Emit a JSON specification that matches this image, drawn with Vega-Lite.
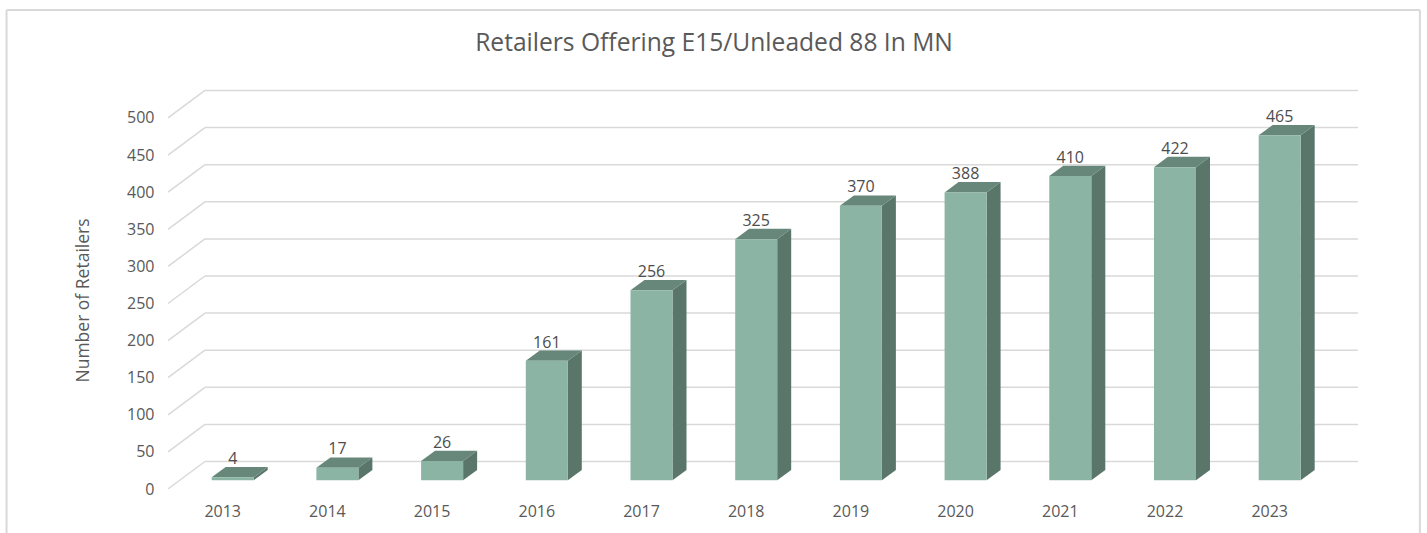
{
 "$schema":"https://vega.github.io/schema/vega-lite/v6.json",
 "width":1190,"height":399,
 "autosize":{"type":"none"},
 "padding":{"left":168,"top":90,"right":69,"bottom":44},
 "background":"white",
 "view":{"stroke":null},
 "config":{"font":"Open Sans","axisY":{"tickCount":11,"labelOverlap":false}},
 "title":{"text":"Retailers Offering E15/Unleaded 88 In MN","font":"Open Sans","fontSize":24.6,"fontWeight":"normal","color":"#595959","anchor":"middle","dx":-49,"offset":-48},
 "datasets":{
  "bars":[
   {"year":2013,"retailers":4},{"year":2014,"retailers":17},{"year":2015,"retailers":26},{"year":2016,"retailers":161},
   {"year":2017,"retailers":256},{"year":2018,"retailers":325},{"year":2019,"retailers":370},{"year":2020,"retailers":388},
   {"year":2021,"retailers":410},{"year":2022,"retailers":422},{"year":2023,"retailers":465}],
  "ticks":[{"tick":0},{"tick":50},{"tick":100},{"tick":150},{"tick":200},{"tick":250},{"tick":300},{"tick":350},{"tick":400},{"tick":450},{"tick":500}]
 },
 "layer":[
  {"data":{"name":"ticks"},
   "transform":[{"calculate":"datum.tick+37.06","as":"back"}],
   "mark":{"type":"rule","stroke":"#d9d9d9","strokeWidth":1.5},
   "encoding":{
    "x":{"datum":2012.735,"type":"quantitative","scale":{"domain":[2012.382,2023.748],"nice":false,"zero":false},
      "axis":{"values":[2013,2014,2015,2016,2017,2018,2019,2020,2021,2022,2023],"format":"d","title":null,"grid":false,"domain":false,"ticks":false,"labelFontSize":16,"labelColor":"#595959","labelPadding":14,"labelOffset":-10.5,"labelFlush":false,"labelOverlap":false}},
    "x2":{"datum":2023.748},
    "y":{"field":"back","type":"quantitative","scale":{"domain":[0,537.7],"nice":false,"zero":false},
      "axis":{"values":[0,50,100,150,200,250,300,350,400,450,500],"tickCount":11,"title":"Number of Retailers","titleFontSize":17.5,"titleFontWeight":"normal","titleColor":"#595959","titleX":-76,"titleY":210,"grid":false,"domain":false,"ticks":false,"labelFontSize":16,"labelColor":"#595959","labelPadding":14,"labelFlush":false,"labelOverlap":false}}
   }},
  {"data":{"name":"ticks"},
   "transform":[{"calculate":"datum.tick+37.06","as":"back"}],
   "mark":{"type":"rule","stroke":"#d9d9d9","strokeWidth":1.5},
   "encoding":{
    "x":{"datum":2012.382,"type":"quantitative"},"x2":{"datum":2012.735},
    "y":{"field":"tick","type":"quantitative"},"y2":{"field":"back"}
   }},
  {"data":{"name":"bars"},
   "transform":[
    {"calculate":"0","as":"near"},{"calculate":"1","as":"far"},
    {"fold":["near","far"],"as":["face","depth"]},
    {"calculate":"datum.year+0.2006+datum.depth*0.1337","as":"sx"},
    {"calculate":"11.7+datum.depth*13.9","as":"sy0"},
    {"calculate":"datum.sy0+datum.retailers","as":"sy1"}],
   "mark":{"type":"area","orient":"vertical","color":"#5a766b","interpolate":"linear"},
   "encoding":{
    "detail":{"field":"year"},
    "x":{"field":"sx","type":"quantitative"},
    "y":{"field":"sy1","type":"quantitative","stack":null},
    "y2":{"field":"sy0"}
   }},
  {"data":{"name":"bars"},
   "transform":[
    {"calculate":"0","as":"near"},{"calculate":"1","as":"far"},
    {"fold":["near","far"],"as":["face","depth"]},
    {"calculate":"datum.year-0.2006+datum.depth*0.1337","as":"tx0"},
    {"calculate":"datum.year+0.2006+datum.depth*0.1337","as":"tx1"},
    {"calculate":"11.7+datum.retailers+datum.depth*13.9","as":"ty"}],
   "mark":{"type":"area","orient":"horizontal","color":"#66877a","interpolate":"linear"},
   "encoding":{
    "detail":{"field":"year"},
    "y":{"field":"ty","type":"quantitative"},
    "x":{"field":"tx0","type":"quantitative","stack":null},
    "x2":{"field":"tx1"}
   }},
  {"data":{"name":"bars"},
   "transform":[
    {"calculate":"datum.year-0.2006","as":"fx0"},
    {"calculate":"datum.year+0.2006","as":"fx1"},
    {"calculate":"11.7","as":"fy0"},
    {"calculate":"11.7+datum.retailers","as":"fy1"}],
   "mark":{"type":"rect","color":"#8bb4a5"},
   "encoding":{
    "x":{"field":"fx0","type":"quantitative"},"x2":{"field":"fx1"},
    "y":{"field":"fy1","type":"quantitative"},"y2":{"field":"fy0"}
   }},
  {"data":{"name":"bars"},
   "transform":[{"calculate":"datum.retailers+25.6","as":"ly"}],
   "mark":{"type":"text","fontSize":16,"color":"#4d4d4d","baseline":"alphabetic","align":"center","dy":-3},
   "encoding":{
    "x":{"field":"year","type":"quantitative"},
    "y":{"field":"ly","type":"quantitative"},
    "text":{"field":"retailers","type":"quantitative"}
   }},
  {"mark":{"type":"rule","stroke":"#d9d9d9","strokeWidth":2,"clip":false},
   "data":{"values":[{"side":"frame"}]},
   "encoding":{"x":{"datum":2010.84,"type":"quantitative"},"y":{"datum":645.55,"type":"quantitative"},"y2":{"datum":-59.3}}},
  {"mark":{"type":"rule","stroke":"#d9d9d9","strokeWidth":2,"clip":false},
   "data":{"values":[{"side":"frame"}]},
   "encoding":{"x":{"datum":2024.339,"type":"quantitative"},"y":{"datum":645.55,"type":"quantitative"},"y2":{"datum":-59.3}}},
  {"mark":{"type":"rule","stroke":"#d9d9d9","strokeWidth":2,"clip":false},
   "data":{"values":[{"side":"frame"}]},
   "encoding":{"x":{"datum":2010.84,"type":"quantitative"},"x2":{"datum":2024.339},"y":{"datum":645.55,"type":"quantitative"}}}
 ]
}
